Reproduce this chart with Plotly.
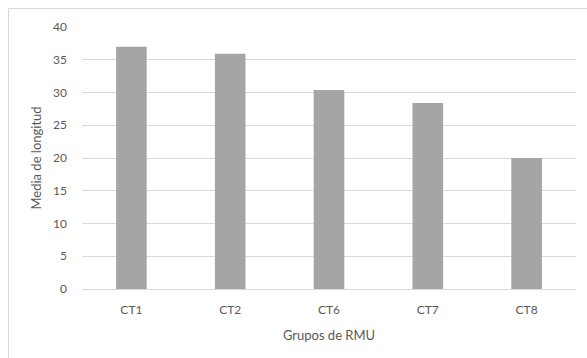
import plotly.graph_objects as go

# Mean length by RMU group
categories = ["CT1", "CT2", "CT6", "CT7", "CT8"]
mean_length = [37.0, 35.9, 30.4, 28.4, 20.0]
y_ticks = [0, 5, 10, 15, 20, 25, 30, 35, 40]

W, H = 587, 358
L, R, T, B = 82, 11, 27, 69
pw, ph = W - L - R, H - T - B

def px_to_paper_x(px):
    return (px - L) / pw

def px_to_paper_y(py):
    return (H - B - py) / ph

font = "Lato, 'Open Sans', sans-serif"
tick_color = "#595959"

fig = go.Figure(
    go.Bar(
        x=categories,
        y=mean_length,
        marker=dict(color="#a5a5a5", line=dict(width=0)),
        width=0.31,
    )
)

fig.update_layout(
    width=W,
    height=H,
    margin=dict(l=L, r=R, t=T, b=B),
    paper_bgcolor="white",
    plot_bgcolor="white",
    showlegend=False,
    font=dict(family=font, size=12, color=tick_color),
)

fig.update_xaxes(
    showgrid=False,
    showline=True,
    linecolor="#d9d9d9",
    linewidth=1,
    ticks="",
    ticklabelstandoff=10,
    tickfont=dict(size=12, color=tick_color),
    title=dict(text="Grupos de RMU", font=dict(size=13, color=tick_color), standoff=14),
)

fig.update_yaxes(
    range=[0, 40],
    tickvals=y_ticks,
    showgrid=True,
    gridcolor="#d9d9d9",
    gridwidth=1,
    zeroline=False,
    showline=False,
    ticks="",
    ticklabelstandoff=14,
    tickfont=dict(size=12, color=tick_color),
    title=dict(text="Media de longitud", font=dict(size=13, color=tick_color), standoff=8),
)

# Chart-area frame: top and left edges
frame = dict(type="line", xref="paper", yref="paper",
             line=dict(color="#d9d9d9", width=1), layer="below")
fig.add_shape(**frame, x0=px_to_paper_x(8.5), x1=px_to_paper_x(W),
              y0=px_to_paper_y(8.5), y1=px_to_paper_y(8.5))
fig.add_shape(**frame, x0=px_to_paper_x(8.5), x1=px_to_paper_x(8.5),
              y0=px_to_paper_y(8.5), y1=px_to_paper_y(H))

fig.write_html("out.html")
